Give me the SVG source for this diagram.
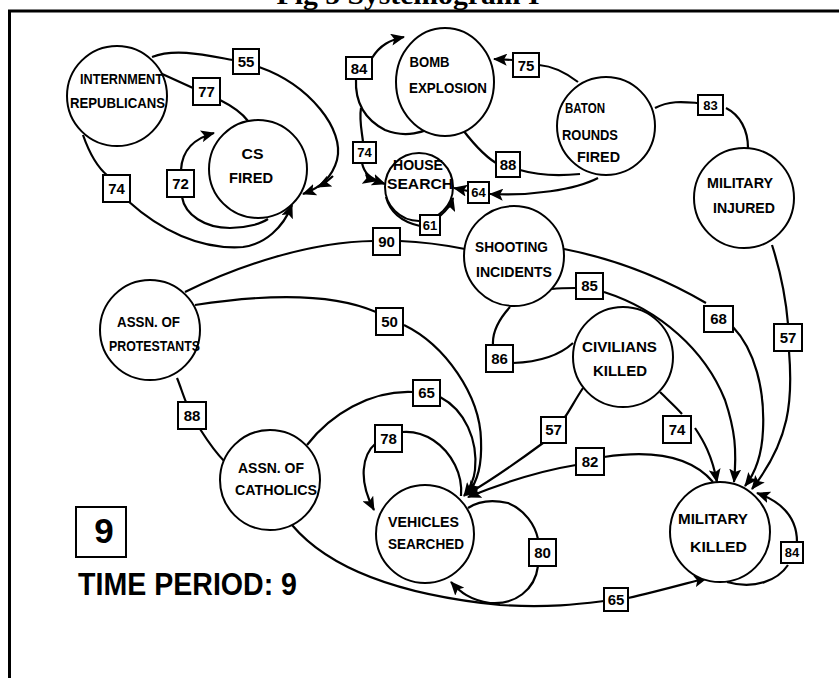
<svg xmlns="http://www.w3.org/2000/svg" width="839" height="678" viewBox="0 0 839 678">
<style>
.n{fill:#fff;stroke:#000;stroke-width:2}
.e{fill:none;stroke:#000;stroke-width:2.2}
.a{marker-end:url(#ah)}
.b{fill:#fff;stroke:#000;stroke-width:2}
.t{font-family:"Liberation Sans",Arial,sans-serif;font-weight:bold;font-size:15px;text-anchor:middle;fill:#000}
.v{font-family:"Liberation Sans",Arial,sans-serif;font-weight:bold;font-size:15px;text-anchor:middle;fill:#000}
.vs{font-family:"Liberation Sans",Arial,sans-serif;font-weight:bold;font-size:13px;text-anchor:middle;fill:#000}
</style>
<defs>
<marker id="ah" markerUnits="userSpaceOnUse" markerWidth="14" markerHeight="12" viewBox="0 0 14 12" refX="13" refY="6" orient="auto">
<path d="M0,0 L14,6 L0,12 L3,6 z" fill="#000"/>
</marker>
</defs>
<rect width="839" height="678" fill="#fff"/>
<text x="408" y="4" font-family="'Liberation Serif','Times New Roman',serif" font-weight="bold" font-size="28" text-anchor="middle" textLength="263" lengthAdjust="spacingAndGlyphs">Fig 5 Systemogram I</text>
<g id="frame">
<line x1="8" y1="11" x2="839" y2="11" stroke="#000" stroke-width="3"/>
<line x1="9.5" y1="10" x2="9.5" y2="678" stroke="#000" stroke-width="3"/>
</g>

<g id="connectors">
<!-- 55 -->
<path class="e" d="M152,57 C175,48 205,55 233,60"/>
<path class="e a" d="M259,67 C310,85 345,130 337,160 C332,178 320,188 303,194"/>
<path class="e a" d="M333,176 C328,181 324,184 318,187"/>
<!-- 77 -->
<path class="e" d="M160,73 L193,88"/>
<path class="e" d="M220,100 C232,106 242,113 248,121"/>
<!-- 74 left -->
<path class="e" d="M83,135 C90,155 98,168 108,176"/>
<path class="e a" d="M128,201 C160,230 200,250 243,247 C265,244 283,228 292,205"/>
<!-- 72 loop -->
<path class="e a" d="M181,170 C182,150 195,138 214,133"/>
<path class="e" d="M182,197 C185,215 205,228 230,228 C248,228 262,223 268,219"/>
<!-- 84 loop bomb -->
<path class="e a" d="M372,58 C380,45 390,40 404,37"/>
<path class="e" d="M356,79 C355,100 362,118 385,130 C405,138 425,133 437,124"/>
<!-- 74 house -->
<path class="e" d="M361,108 C359,120 362,132 363,142"/>
<path class="e a" d="M362,163 C364,172 368,178 385,184"/>
<path class="e a" d="M366,175 C369,178 372,180 376,181"/>
<!-- 75 -->
<path class="e" d="M578,82 C565,72 552,66 539,65"/>
<path class="e a" d="M513,60 L494,59"/>
<!-- 83 -->
<path class="e" d="M655,108 C670,100 685,102 698,103"/>
<path class="e" d="M726,108 C740,115 748,130 748,148"/>
<!-- 88 top -->
<path class="e" d="M457,122 C470,140 483,155 496,163"/>
<path class="e" d="M520,170 C540,176 560,176 580,174"/>
<!-- 64 -->
<path class="e a" d="M598,178 C575,190 530,196 490,194"/>
<path class="e a" d="M468,191 L454,188"/>
<!-- 61 loop -->
<path class="e" d="M386,197 C390,212 402,222 420,226"/>
<path class="e a" d="M440,216 C447,210 451,205 453,198"/>
<!-- 90 -->
<path class="e" d="M185,292 C240,265 310,242 373,241"/>
<path class="e" d="M400,241 C425,242 445,245 465,249"/>
<!-- 50 -->
<path class="e" d="M195,305 C260,295 330,292 376,312"/>
<path class="e a" d="M404,325 C445,345 480,395 481,440 C482,465 478,480 468,494"/>
<!-- 65 upper -->
<path class="e" d="M307,445 C330,415 370,390 413,392"/>
<path class="e a" d="M440,397 C465,410 478,440 475,470 C474,480 470,488 464,496"/>
<!-- 78 loop -->
<path class="e a" d="M376,443 C362,455 358,480 374,510"/>
<path class="e" d="M402,432 C425,430 445,445 455,465 C460,475 462,485 461,496"/>
<!-- 57 lower -->
<path class="e" d="M583,388 C575,400 570,410 565,417"/>
<path class="e a" d="M543,443 C520,460 495,478 466,495"/>
<!-- 82 -->
<path class="e" d="M713,482 C690,455 650,450 604,457"/>
<path class="e a" d="M576,465 C545,470 510,480 468,497"/>
<!-- 86 -->
<path class="e" d="M510,307 C500,318 492,330 493,345"/>
<path class="e" d="M513,363 C540,362 560,355 573,343"/>
<!-- 85 -->
<path class="e" d="M552,289 C560,288 568,288 576,288"/>
<path class="e a" d="M604,292 C660,310 705,350 725,400 C735,430 737,450 734,482"/>
<!-- 68 -->
<path class="e" d="M564,249 C620,260 670,282 706,303"/>
<path class="e a" d="M733,327 C755,350 765,390 763,430 C762,455 756,472 745,486"/>
<!-- 57 right -->
<path class="e" d="M772,245 C780,270 786,300 788,324"/>
<path class="e a" d="M789,351 C793,400 790,440 752,489"/>
<!-- 74 lower right -->
<path class="e" d="M660,392 C668,400 676,407 682,414"/>
<path class="e a" d="M695,428 C703,440 712,455 717,482"/>
<!-- 84 loop military killed -->
<path class="e a" d="M797,542 C797,520 785,503 757,493"/>
<path class="e" d="M788,565 C778,580 755,590 727,582"/>
<!-- 88 lower -->
<path class="e" d="M177,378 C180,385 183,395 186,402"/>
<path class="e" d="M200,429 C207,440 215,452 225,462"/>
<!-- 65 bottom -->
<path class="e" d="M292,525 C330,570 400,595 500,605 C550,608 580,604 604,601"/>
<path class="e a" d="M628,598 C655,592 680,585 707,578"/>
<!-- 80 loop -->
<path class="e" d="M468,508 C480,500 495,500 508,503 C525,510 535,525 538,539"/>
<path class="e a" d="M538,566 C535,590 515,605 490,603 C470,600 460,592 451,582"/>
</g>

<g id="internment"><circle class="n" cx="117" cy="96" r="50"/>
<text class="t" x="121.5" y="84" textLength="83" lengthAdjust="spacingAndGlyphs">INTERNMENT</text>
<text class="t" x="117.5" y="108" textLength="95" lengthAdjust="spacingAndGlyphs">REPUBLICANS</text></g>
<g id="csfired"><circle class="n" cx="258" cy="169" r="49"/>
<text class="t" x="252.5" y="159" textLength="22" lengthAdjust="spacingAndGlyphs">CS</text>
<text class="t" x="251" y="183" textLength="44" lengthAdjust="spacingAndGlyphs">FIRED</text></g>
<g id="bomb"><ellipse class="n" cx="445" cy="82" rx="49" ry="54"/>
<text class="t" x="429.5" y="67" textLength="40" lengthAdjust="spacingAndGlyphs">BOMB</text>
<text class="t" x="448" y="93" textLength="78" lengthAdjust="spacingAndGlyphs">EXPLOSION</text></g>
<g id="baton"><circle class="n" cx="606" cy="126" r="49"/>
<text class="t" x="585" y="113" textLength="40" lengthAdjust="spacingAndGlyphs">BATON</text>
<text class="t" x="590" y="140" textLength="56" lengthAdjust="spacingAndGlyphs">ROUNDS</text>
<text class="t" x="598.5" y="162" textLength="43" lengthAdjust="spacingAndGlyphs">FIRED</text></g>
<g id="milinjured"><circle class="n" cx="744" cy="198" r="50"/>
<text class="t" x="740" y="188" textLength="66" lengthAdjust="spacingAndGlyphs">MILITARY</text>
<text class="t" x="744" y="213" textLength="62" lengthAdjust="spacingAndGlyphs">INJURED</text></g>
<g id="house"><circle class="n" cx="419" cy="187" r="34"/>
<text class="t" x="418" y="170" textLength="50" lengthAdjust="spacingAndGlyphs">HOUSE</text>
<text class="t" x="420" y="189" textLength="66" lengthAdjust="spacingAndGlyphs">SEARCH</text></g>
<g id="shooting"><circle class="n" cx="514" cy="256" r="50"/>
<text class="t" x="511.5" y="252" textLength="73" lengthAdjust="spacingAndGlyphs">SHOOTING</text>
<text class="t" x="514" y="277" textLength="76" lengthAdjust="spacingAndGlyphs">INCIDENTS</text></g>
<g id="civilians"><circle class="n" cx="623" cy="357" r="50"/>
<text class="t" x="619.5" y="352" textLength="75" lengthAdjust="spacingAndGlyphs">CIVILIANS</text>
<text class="t" x="620" y="376" textLength="54" lengthAdjust="spacingAndGlyphs">KILLED</text></g>
<g id="protestants"><circle class="n" cx="150" cy="330" r="50"/>
<text class="t" x="148.5" y="327" textLength="63" lengthAdjust="spacingAndGlyphs">ASSN. OF</text>
<text class="t" x="154.5" y="351" textLength="91" lengthAdjust="spacingAndGlyphs">PROTESTANTS</text></g>
<g id="catholics"><circle class="n" cx="270" cy="480" r="50"/>
<text class="t" x="271" y="473" textLength="66" lengthAdjust="spacingAndGlyphs">ASSN. OF</text>
<text class="t" x="276" y="495" textLength="82" lengthAdjust="spacingAndGlyphs">CATHOLICS</text></g>
<g id="vehicles"><circle class="n" cx="425" cy="534" r="49"/>
<text class="t" x="423.5" y="527" textLength="71" lengthAdjust="spacingAndGlyphs">VEHICLES</text>
<text class="t" x="426" y="549" textLength="76" lengthAdjust="spacingAndGlyphs">SEARCHED</text></g>
<g id="milkilled"><circle class="n" cx="720" cy="532" r="50"/>
<text class="t" x="713" y="524" textLength="70" lengthAdjust="spacingAndGlyphs">MILITARY</text>
<text class="t" x="718.5" y="552" textLength="57" lengthAdjust="spacingAndGlyphs">KILLED</text></g>

<g id="labels">
<rect class="b" x="233" y="49" width="26" height="25"/><text class="v" x="246" y="67">55</text>
<rect class="b" x="193" y="78" width="27" height="27"/><text class="v" x="206.5" y="97">77</text>
<rect class="b" x="103" y="175" width="27" height="27"/><text class="v" x="116.5" y="194">74</text>
<rect class="b" x="167" y="170" width="27" height="27"/><text class="v" x="180.5" y="189">72</text>
<rect class="b" x="346" y="57" width="26" height="22"/><text class="v" x="359" y="74">84</text>
<rect class="b" x="513" y="53" width="26" height="24"/><text class="v" x="526" y="71">75</text>
<rect class="b" x="698" y="95" width="25" height="20"/><text class="vs" x="710.5" y="110">83</text>
<rect class="b" x="353" y="142" width="23" height="21"/><text class="vs" x="364.5" y="157">74</text>
<rect class="b" x="496" y="152" width="24" height="25"/><text class="v" x="508" y="170">88</text>
<rect class="b" x="468" y="182" width="21" height="21"/><text class="vs" x="478.5" y="197">64</text>
<rect class="b" x="420" y="215" width="20" height="20"/><text class="vs" x="430" y="230">61</text>
<rect class="b" x="373" y="228" width="27" height="27"/><text class="v" x="386.5" y="247">90</text>
<rect class="b" x="376" y="308" width="27" height="27"/><text class="v" x="389.5" y="327">50</text>
<rect class="b" x="576" y="273" width="27" height="26"/><text class="v" x="589.5" y="291">85</text>
<rect class="b" x="704" y="306" width="29" height="26"/><text class="v" x="718.5" y="324">68</text>
<rect class="b" x="774" y="324" width="28" height="27"/><text class="v" x="788" y="343">57</text>
<rect class="b" x="486" y="345" width="27" height="27"/><text class="v" x="499.5" y="364">86</text>
<rect class="b" x="541" y="417" width="25" height="26"/><text class="v" x="553.5" y="435">57</text>
<rect class="b" x="663" y="416" width="28" height="27"/><text class="v" x="677" y="435">74</text>
<rect class="b" x="178" y="402" width="28" height="27"/><text class="v" x="192" y="421">88</text>
<rect class="b" x="413" y="380" width="27" height="26"/><text class="v" x="426.5" y="398">65</text>
<rect class="b" x="375" y="425" width="27" height="27"/><text class="v" x="388.5" y="444">78</text>
<rect class="b" x="529" y="539" width="27" height="27"/><text class="v" x="542.5" y="558">80</text>
<rect class="b" x="576" y="448" width="28" height="27"/><text class="v" x="590" y="467">82</text>
<rect class="b" x="781" y="542" width="22" height="21"/><text class="vs" x="792" y="557">84</text>
<rect class="b" x="604" y="588" width="24" height="23"/><text class="v" x="616" y="605">65</text>
</g>

<g id="period">
<rect class="b" x="76" y="507" width="50" height="50"/>
<text x="104" y="543" font-family="'Liberation Sans',Arial,sans-serif" font-weight="bold" font-size="35" text-anchor="middle">9</text>
<text x="78" y="595" font-family="'Liberation Sans',Arial,sans-serif" font-weight="bold" font-size="31" textLength="219" lengthAdjust="spacingAndGlyphs">TIME PERIOD: 9</text>
</g>
</svg>
